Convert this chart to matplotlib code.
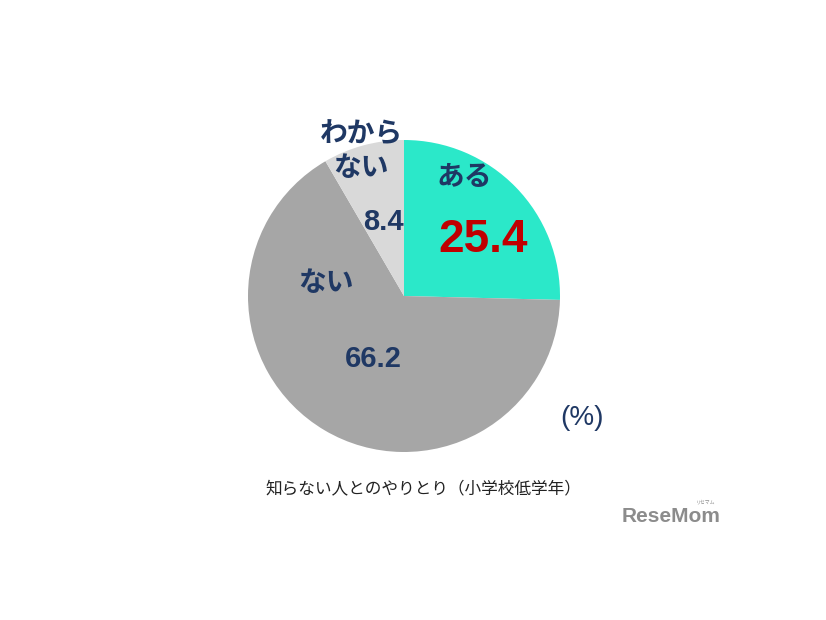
import matplotlib as mpl
import matplotlib.pyplot as plt

mpl.rcParams["font.family"] = ["Noto Sans CJK JP", "DejaVu Sans"]

labels = ["ある", "ない", "わから\nない"]
values = [25.4, 66.2, 8.4]
colors = ["#2BE8C9", "#A6A6A6", "#D9D9D9"]
caption = "知らない人とのやりとり（小学校低学年）"

NAVY = "#1F3864"
RED = "#C00000"
H = 620

fig = plt.figure(figsize=(8.26, 6.2), dpi=100)
ax = fig.add_axes([0, 0, 1, 1])

ax.pie(values, colors=colors, startangle=90, counterclock=False,
       center=(404, H - 296), radius=156, frame=True,
       wedgeprops={"linewidth": 0})
ax.set_xlim(0, 826)
ax.set_ylim(0, H)
ax.set_aspect("equal")
ax.axis("off")

# category labels
ax.text(464, H - 177, labels[0], ha="center", va="center", fontsize=20,
        fontweight="bold", color=NAVY)
ax.text(326, H - 283, labels[1], ha="center", va="center", fontsize=20,
        fontweight="bold", color=NAVY)
ax.text(361, H - 151, labels[2], ha="center", va="center", fontsize=20,
        fontweight="bold", color=NAVY, linespacing=1.25)

# values
ax.text(483, H - 240, f"{values[0]}", ha="center", va="center", fontsize=33,
        fontweight="bold", color=RED, family="Liberation Sans")
ax.text(373, H - 359, f"{values[1]}", ha="center", va="center", fontsize=21,
        fontweight="bold", color=NAVY, family="Liberation Sans")
ax.text(383, H - 222, f"{values[2]}", ha="center", va="center", fontsize=21,
        fontweight="bold", color=NAVY, family="Liberation Sans")

ax.text(582, H - 418, "(%)", ha="center", va="center", fontsize=20,
        color=NAVY, family="Liberation Sans")

ax.text(423, H - 489, caption, ha="center", va="center", fontsize=12,
        color="#222222")

# watermark
ax.text(671, H - 516, "ReseMom", ha="center", va="center", fontsize=15,
        fontweight="bold", color="#8C8C8C", family="Liberation Sans")
ax.text(706, H - 502, "リセマム", ha="center", va="center", fontsize=3.5,
        color="#8C8C8C")

fig.savefig("out.png", dpi=100, facecolor="white")
